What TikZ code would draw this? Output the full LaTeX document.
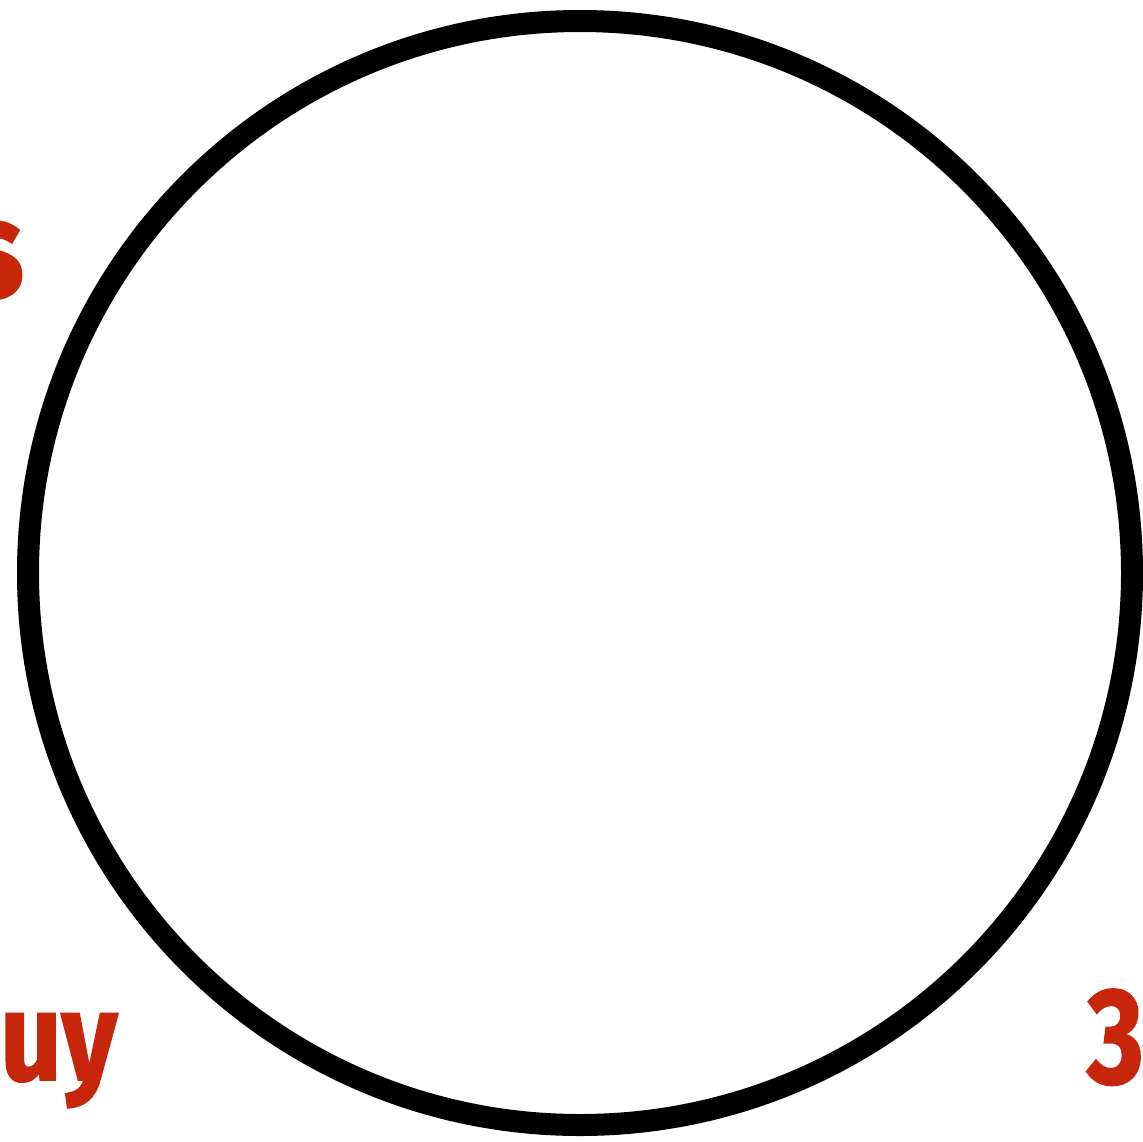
\documentclass[tikz,border=0pt]{standalone}
\usepackage{fontspec}
\setmainfont{Fira Sans}
\newfontfamily\lblfont[FakeBold=1.5]{Fira Sans Bold}
\definecolor{lblred}{HTML}{C8260A}
\begin{document}
\begin{tikzpicture}[x=1pt,y=-1pt,
  lbl/.style={text=lblred,inner sep=0pt}]
\useasboundingbox (0,0) rectangle (1143,1141);
\clip (0,0) rectangle (1143,1141);
\node[draw=black,line width=22pt,circle,minimum size=1104pt,inner sep=0pt] (ring) at (580,573) {};
\node[lbl,anchor=base east,xscale=0.9,font=\lblfont\fontsize{138}{138}\selectfont] (s) at (24,297) {s};
\node[lbl,anchor=base west,xscale=0.86,font=\lblfont\fontsize{125}{125}\selectfont] (uy) at (0,1080) {uy};
\node[lbl,anchor=base west,xscale=0.8,font=\lblfont\fontsize{136}{136}\selectfont] (three) at (1087,1083) {3};
\end{tikzpicture}
\end{document}
